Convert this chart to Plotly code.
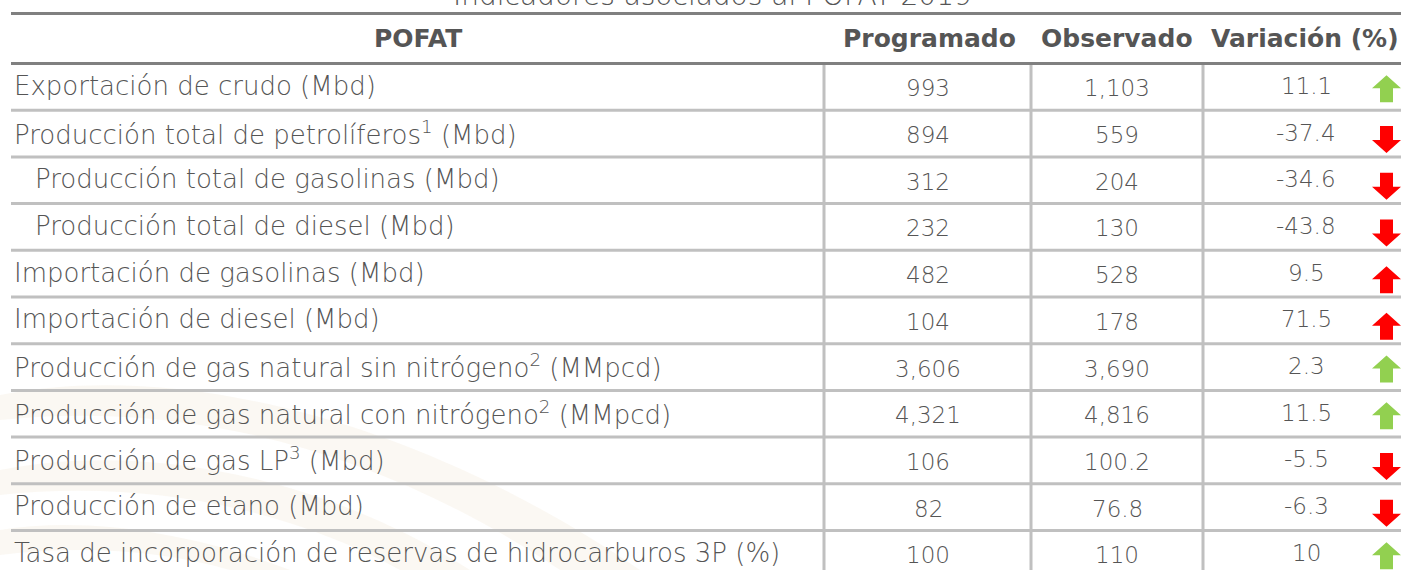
import plotly.graph_objects as go

# ---------------- data ----------------
titulo = "Indicadores asociados al POFAT 2019"
encabezados = ["POFAT", "Programado", "Observado", "Variación (%)"]
indicadores = [
    "Exportación de crudo (Mbd)",
    "Producción total de petrolíferos<sup>1</sup> (Mbd)",
    "Producción total de gasolinas (Mbd)",
    "Producción total de diesel (Mbd)",
    "Importación de gasolinas (Mbd)",
    "Importación de diesel (Mbd)",
    "Producción de gas natural sin nitrógeno<sup>2</sup> (MMpcd)",
    "Producción de gas natural con nitrógeno<sup>2</sup> (MMpcd)",
    "Producción de gas LP<sup>3</sup> (Mbd)",
    "Producción de etano (Mbd)",
    "Tasa de incorporación de reservas de hidrocarburos 3P (%)",
]
nivel = [0, 0, 1, 1, 0, 0, 0, 0, 0, 0, 0]
programado = [993, 894, 312, 232, 482, 104, 3606, 4321, 106, 82, 100]
observado = [1103, 559, 204, 130, 528, 178, 3690, 4816, 100.2, 76.8, 110]
variacion = [11.1, -37.4, -34.6, -43.8, 9.5, 71.5, 2.3, 11.5, -5.5, -6.3, 10]
favorable = [True, False, False, False, False, False, True, True, False, False, True]

# ---------------- styling / layout constants ----------------
W, H = 1401, 570
FONT = "DejaVu Sans"
TXT = "#555555"
DARK_LINE = "#808080"
LIGHT_LINE = "#c0c0c0"
GREEN = "#92d050"
RED = "#ff0000"
FS_LABEL = 26
FS_NUM = 23
FS_HEAD = 25
FS_TITLE = 28

LINE_X0 = 11
TOP_LINE_Y = 13.5
HEAD_LINE_Y = 63.5
ROW_H = 46.7
VLINES = [824, 1031, 1203]
COL_CX = [None, 928, 1117, 1306]
HEAD_CX = [418, 929, 1117, 1305]
LABEL_X = [12, 33]
ARROW_CX = 1386.5


def fmt(v):
    if float(v).is_integer():
        return f"{int(v):,}"
    return f"{v}"


def row_center(i):
    return HEAD_LINE_Y + ROW_H * (i + 0.5)


fig = go.Figure()
fig.add_trace(go.Scatter(x=[0, W], y=[0, H], mode="markers",
                         marker=dict(opacity=0), hoverinfo="skip", showlegend=False))

shapes = []
annotations = []

# faint watermark swooshes
wm = "rgba(225,200,160,0.13)"
shapes.append(dict(type="path", layer="below", line=dict(width=0), fillcolor=wm,
                   path="M 0 395 C 180 360, 420 420, 640 570 L 560 570 C 380 450, 190 400, 0 420 Z"))
shapes.append(dict(type="path", layer="below", line=dict(width=0), fillcolor=wm,
                   path="M 0 470 C 150 440, 330 480, 470 570 L 400 570 C 280 505, 140 480, 0 495 Z"))
shapes.append(dict(type="path", layer="below", line=dict(width=0), fillcolor=wm,
                   path="M 0 530 C 90 515, 200 535, 290 570 L 230 570 C 160 550, 80 545, 0 555 Z"))

# horizontal rules
shapes.append(dict(type="line", x0=LINE_X0, x1=W + 5, y0=TOP_LINE_Y, y1=TOP_LINE_Y,
                   line=dict(color=DARK_LINE, width=3)))
shapes.append(dict(type="line", x0=LINE_X0, x1=W + 5, y0=HEAD_LINE_Y, y1=HEAD_LINE_Y,
                   line=dict(color=DARK_LINE, width=3)))
for i in range(len(indicadores)):
    y = HEAD_LINE_Y + ROW_H * (i + 1)
    shapes.append(dict(type="line", x0=LINE_X0, x1=W + 5, y0=y, y1=y,
                       line=dict(color=LIGHT_LINE, width=3)))
# vertical rules
for xv in VLINES:
    shapes.append(dict(type="line", x0=xv, x1=xv, y0=HEAD_LINE_Y + 1.5, y1=H + 20,
                       line=dict(color=LIGHT_LINE, width=3)))

# title (partially cut at top, as in the source)
annotations.append(dict(x=712, y=0, yshift=5, text=titulo, showarrow=False, xanchor="center",
                        yanchor="middle",
                        font=dict(family=FONT, size=FS_TITLE, color=TXT, weight=200)))

# header
for j, h in enumerate(encabezados):
    annotations.append(dict(x=HEAD_CX[j], y=38.5, text=f"<b>{h}</b>", showarrow=False,
                            xanchor="center", yanchor="middle",
                            font=dict(family=FONT, size=FS_HEAD, color=TXT)))

# rows
for i, lab in enumerate(indicadores):
    yc = row_center(i)
    annotations.append(dict(x=LABEL_X[nivel[i]], y=yc - 1, text=lab, showarrow=False,
                            xanchor="left", yanchor="middle",
                            font=dict(family=FONT, size=FS_LABEL, color=TXT, weight=200)))
    for j, v in ((1, programado[i]), (2, observado[i]), (3, variacion[i])):
        annotations.append(dict(x=COL_CX[j], y=yc + (1.5 if j < 3 else -1), text=fmt(v),
                                showarrow=False, xanchor="center", yanchor="middle",
                                font=dict(family=FONT, size=FS_NUM, color=TXT, weight=200)))
    # arrow
    up = variacion[i] >= 0
    col = GREEN if favorable[i] else RED
    cy = yc + (2 if favorable[i] else 6)
    hh, hw, sw, head = 13.5, 14.5, 6.5, 13
    cx = ARROW_CX
    top, bot = cy - hh, cy + hh
    if up:
        p = (f"M {cx} {top} L {cx+hw} {top+head} L {cx+sw} {top+head} L {cx+sw} {bot} "
             f"L {cx-sw} {bot} L {cx-sw} {top+head} L {cx-hw} {top+head} Z")
    else:
        p = (f"M {cx} {bot} L {cx+hw} {bot-head} L {cx+sw} {bot-head} L {cx+sw} {top} "
             f"L {cx-sw} {top} L {cx-sw} {bot-head} L {cx-hw} {bot-head} Z")
    shapes.append(dict(type="path", path=p, fillcolor=col, line=dict(width=0)))

fig.update_layout(
    width=W, height=H,
    margin=dict(l=0, r=0, t=0, b=0),
    paper_bgcolor="white", plot_bgcolor="white",
    xaxis=dict(range=[0, W], visible=False, fixedrange=True),
    yaxis=dict(range=[H, 0], visible=False, fixedrange=True),
    shapes=shapes, annotations=annotations, showlegend=False,
)
fig.write_html("out.html", config={"displayModeBar": False},
               post_script="document.body.style.margin='0';document.body.style.overflow='hidden';")
